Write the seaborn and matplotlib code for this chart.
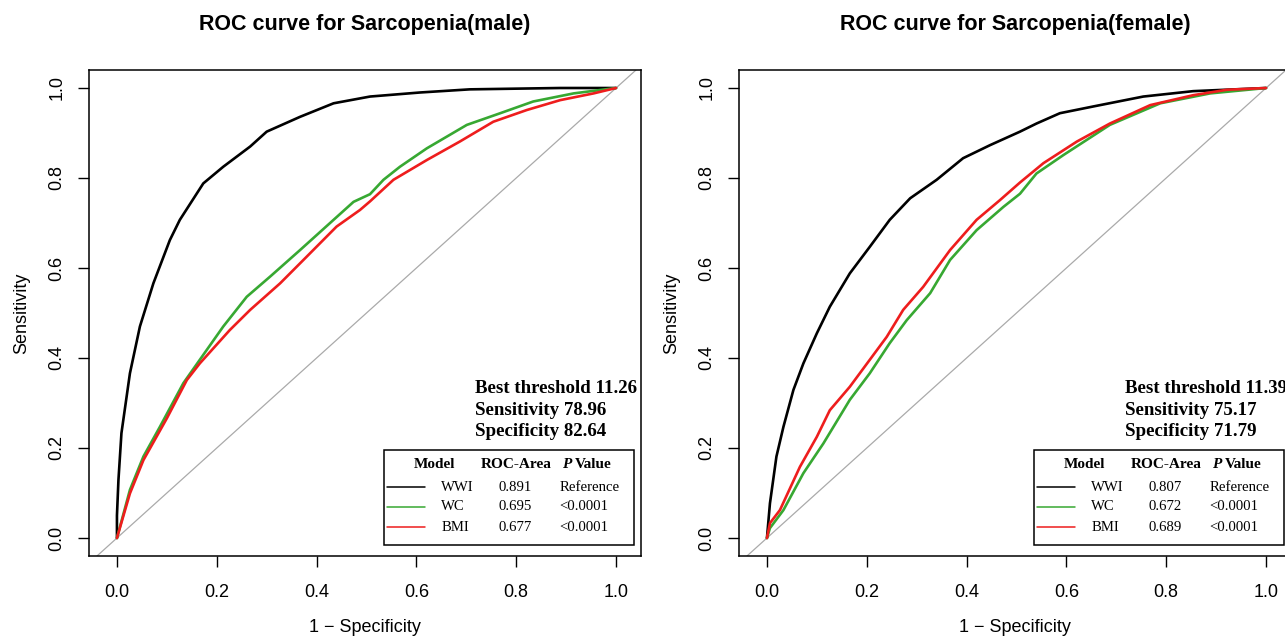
import numpy as np
import pandas as pd
import seaborn as sns
import matplotlib.pyplot as plt
from matplotlib.patches import Rectangle

# ---- data ----
models = ["WWI", "WC", "BMI"]
line_colors = ["black", "#37a832", "#ee1d1d"]

# male panel
male_wwi_fpr = [0, 0.0, 0.003, 0.009, 0.026, 0.046, 0.073, 0.106, 0.126, 0.173, 0.213, 0.267,
                0.3, 0.367, 0.434, 0.507, 0.607, 0.707, 0.888, 1.0]
male_wwi_tpr = [0, 0.05, 0.129, 0.233, 0.366, 0.47, 0.566, 0.662, 0.707, 0.788, 0.825, 0.87,
                0.903, 0.936, 0.966, 0.981, 0.99, 0.997, 1.0, 1.0]
male_wc_fpr = [0, 0.026, 0.053, 0.086, 0.133, 0.166, 0.213, 0.26, 0.307, 0.367, 0.434, 0.474,
               0.507, 0.534, 0.567, 0.621, 0.701, 0.768, 0.834, 0.915, 1.0]
male_wc_tpr = [0, 0.107, 0.181, 0.247, 0.344, 0.396, 0.47, 0.536, 0.581, 0.64, 0.707, 0.747,
               0.764, 0.796, 0.825, 0.866, 0.918, 0.944, 0.97, 0.988, 1.0]
male_bmi_fpr = [0, 0.026, 0.053, 0.1, 0.14, 0.166, 0.226, 0.267, 0.327, 0.38, 0.44, 0.487,
                0.507, 0.554, 0.621, 0.687, 0.754, 0.821, 0.888, 0.955, 1.0]
male_bmi_tpr = [0, 0.099, 0.173, 0.266, 0.351, 0.388, 0.462, 0.507, 0.566, 0.625, 0.692, 0.729,
                0.748, 0.796, 0.84, 0.881, 0.925, 0.951, 0.973, 0.988, 1.0]
male_auc = ["0.891", "0.695", "0.677"]
male_p = ["Reference", "<0.0001", "<0.0001"]
male_best = ["Best threshold 11.26", "Sensitivity 78.96", "Specificity 82.64"]

# female panel
female_wwi_fpr = [0, 0.006, 0.019, 0.033, 0.053, 0.073, 0.1, 0.126, 0.166, 0.206, 0.246, 0.287,
                  0.34, 0.393, 0.447, 0.507, 0.54, 0.587, 0.654, 0.754, 0.854, 1.0]
female_wwi_tpr = [0, 0.077, 0.181, 0.247, 0.329, 0.388, 0.455, 0.514, 0.588, 0.647, 0.707, 0.755,
                  0.796, 0.844, 0.873, 0.903, 0.921, 0.944, 0.959, 0.981, 0.993, 1.0]
female_wc_fpr = [0, 0.006, 0.033, 0.073, 0.113, 0.166, 0.206, 0.246, 0.28, 0.327, 0.367, 0.42,
                 0.474, 0.507, 0.54, 0.594, 0.687, 0.788, 0.888, 1.0]
female_wc_tpr = [0, 0.022, 0.062, 0.144, 0.21, 0.307, 0.366, 0.433, 0.484, 0.544, 0.618, 0.684,
                 0.736, 0.765, 0.81, 0.851, 0.918, 0.966, 0.988, 1.0]
female_bmi_fpr = [0, 0.006, 0.026, 0.066, 0.1, 0.126, 0.166, 0.206, 0.24, 0.273, 0.313, 0.367,
                  0.42, 0.467, 0.507, 0.554, 0.621, 0.687, 0.768, 0.854, 0.921, 1.0]
female_bmi_tpr = [0, 0.033, 0.062, 0.158, 0.225, 0.284, 0.336, 0.396, 0.447, 0.507, 0.558, 0.64,
                  0.707, 0.751, 0.79, 0.833, 0.881, 0.921, 0.962, 0.984, 0.996, 1.0]
female_auc = ["0.807", "0.672", "0.689"]
female_p = ["Reference", "<0.0001", "<0.0001"]
female_best = ["Best threshold 11.39", "Sensitivity 75.17", "Specificity 71.79"]

ticks = [0.0, 0.2, 0.4, 0.6, 0.8, 1.0]
tick_labels = ["0.0", "0.2", "0.4", "0.6", "0.8", "1.0"]


def make_frame(fprs, tprs):
    parts = []
    for name, fpr, tpr in zip(models, fprs, tprs):
        parts.append(pd.DataFrame({"model": name, "fpr": fpr, "tpr": tpr}))
    return pd.concat(parts, ignore_index=True)


panels = [
    dict(title="ROC curve for Sarcopenia(male)",
         df=make_frame([male_wwi_fpr, male_wc_fpr, male_bmi_fpr],
                       [male_wwi_tpr, male_wc_tpr, male_bmi_tpr]),
         auc=male_auc, p=male_p, best=male_best),
    dict(title="ROC curve for Sarcopenia(female)",
         df=make_frame([female_wwi_fpr, female_wc_fpr, female_bmi_fpr],
                       [female_wwi_tpr, female_wc_tpr, female_bmi_tpr]),
         auc=female_auc, p=female_p, best=female_best),
]

sns.set_style("white")
plt.rcParams['font.family'] = ['Liberation Sans', 'DejaVu Sans']
plt.rcParams['text.color'] = 'black'
plt.rcParams['axes.labelcolor'] = 'black'
plt.rcParams['xtick.color'] = 'black'
plt.rcParams['ytick.color'] = 'black'

fig = plt.figure(figsize=(12.85, 6.36), dpi=100)
axes = [fig.add_axes([89 / 1285, 80 / 636, 552 / 1285, 486 / 636]),
        fig.add_axes([739 / 1285, 80 / 636, 552 / 1285, 486 / 636])]

serif = ['Liberation Serif', 'DejaVu Serif']
palette = dict(zip(models, line_colors))

for ax, pan in zip(axes, panels):
    ax.axline((0, 0), (1, 1), color="#aaaaaa", lw=0.9, zorder=1)
    sns.lineplot(data=pan["df"], x="fpr", y="tpr", hue="model", palette=palette,
                 estimator=None, sort=False, legend=False, lw=1.9, ax=ax, zorder=3)

    ax.set_xlim(-0.056, 1.05)
    ax.set_ylim(-0.04, 1.04)
    ax.set_xticks(ticks, tick_labels)
    ax.set_yticks(ticks, tick_labels)
    ax.tick_params(axis="both", direction="out", length=8, width=1, labelsize=13,
                   color="black", labelcolor="black", bottom=True, left=True)
    ax.tick_params(axis="x", pad=12)
    ax.tick_params(axis="y", pad=9, labelrotation=90)
    for lab in ax.get_yticklabels():
        lab.set_va("center")
    for sp in ax.spines.values():
        sp.set_color("black")
        sp.set_linewidth(1.1)
    ax.set_xlabel("1 \u2212 Specificity", fontsize=13, labelpad=13, color="black")
    ax.set_ylabel("Sensitivity", fontsize=13, labelpad=13, color="black")
    ax.set_title(pan["title"], fontsize=15.5, fontweight="bold", pad=29, color="black")

    # best threshold text
    for txt, yy in zip(pan["best"], [0.333, 0.284, 0.236]):
        ax.text(0.717, yy, txt, family=serif, fontsize=13.6, fontweight="bold",
                ha="left", va="center", clip_on=False, color="black")

    # legend table
    ax.add_patch(Rectangle((0.535, -0.015), 0.501, 0.21, fill=False, ec="black",
                           lw=1.1, clip_on=False, zorder=4))
    hy = 0.164
    hdr = dict(family=serif, fontsize=11, fontweight="bold", va="center", color="black")
    ax.text(0.637, hy, "Model", ha="center", **hdr)
    ax.text(0.80, hy, "ROC-Area", ha="center", **hdr)
    ax.text(0.911, hy, "P", ha="right", style="italic", **hdr)
    ax.text(0.917, hy, "Value", ha="left", **hdr)
    for name, col, auc, pv, yy in zip(models, line_colors, pan["auc"], pan["p"],
                                      [0.113, 0.069, 0.024]):
        ax.plot([0.541, 0.617], [yy, yy], color=col, lw=1.1, clip_on=False)
        cell = dict(family=serif, fontsize=10.6, va="center", color="black")
        ax.text(0.65, yy, name, ha="left", **cell)
        ax.text(0.798, yy, auc, ha="center", **cell)
        ax.text(0.886, yy, pv, ha="left", **cell)

fig.savefig("out.png", dpi=100)
